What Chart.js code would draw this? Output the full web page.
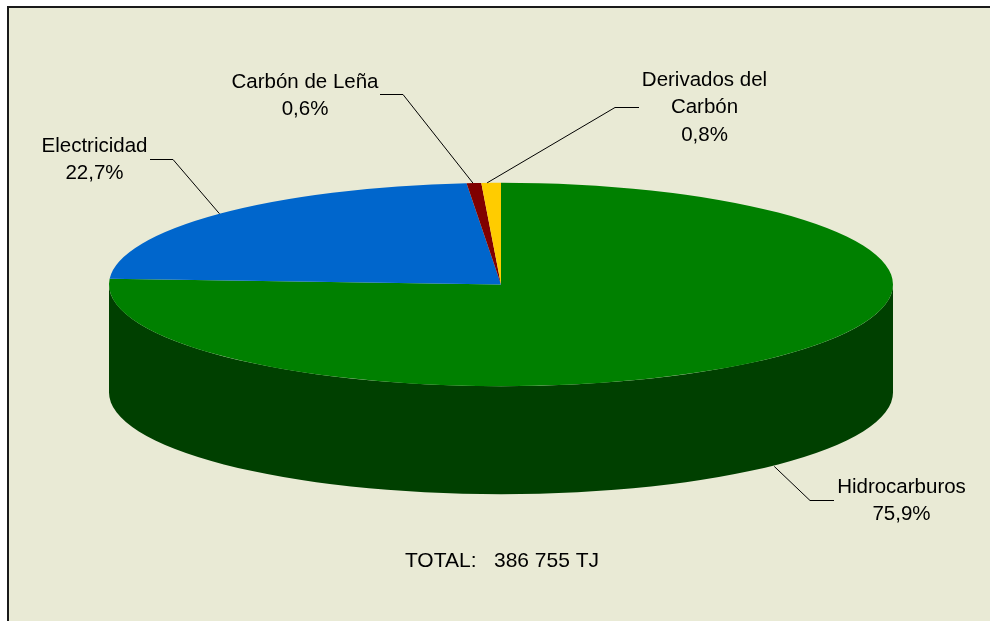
<!DOCTYPE html>
<html>
<head>
<meta charset="utf-8">
<title>Consumo final de energía</title>
<script src="https://cdn.jsdelivr.net/npm/chart.js@4"></script>
<style>
  html, body { margin: 0; padding: 0; background: #fff; overflow: hidden; }
  #panel { position: absolute; left: 7px; top: 6px; width: 990px; height: 621px; background: #e9ead5; border: 2px solid #1a1a1a; }
  #chart { position: absolute; left: 0; top: 0; }
</style>
</head>
<body>
<div id="panel"></div>
<canvas id="chart" width="990" height="621"></canvas>
<script>
// === DATA ===
const categories = ['Hidrocarburos', 'Electricidad', 'Carbón de Leña', 'Derivados del Carbón'];
const values = [75.9, 22.7, 0.6, 0.8];
const labelLines = [['Hidrocarburos'], ['Electricidad'], ['Carbón de Leña'], ['Derivados del', 'Carbón']];
const totalLabel = 'TOTAL:   386 755 TJ';

// === STYLE ===
const topColors = ['#008000', '#0066cc', '#800000', '#ffcc00'];
const sideColors = ['#004000', '#003366', '#400000', '#806600'];
const FONT = '20.5px "Liberation Sans", Arial, sans-serif';
const TOTAL_FONT = '21px "Liberation Sans", Arial, sans-serif';
const LINE_H = 27.4;

// pie is squashed into an ellipse
const RX = 392, RY = 101.7, DEPTH = 108;

// label centre x, first baseline y, leader elbow, leader end, small nudge of the leader start
const labelLayout = [
  { x: 901.5, y: 493, elbow: [810, 500], end: [834, 500], wall: true, dx: 4 },
  { x: 94.5, y: 152, elbow: [173, 159], end: [150, 159], dx: 0 },
  { x: 305, y: 88, elbow: [403, 94], end: [380, 94], dx: -1 },
  { x: 704.5, y: 86, elbow: [615, 107], end: [639, 107], dx: -4 }
];

function squash(ctx, arc) {
  ctx.translate(arc.x, arc.y);
  ctx.scale(RX / arc.outerRadius, RY / arc.outerRadius);
  ctx.translate(-arc.x, -arc.y);
}

const pie3d = {
  id: 'pie3d',
  beforeDatasetsDraw(chart) {
    const ctx = chart.ctx;
    const arcs = chart.getDatasetMeta(0).data;
    ctx.save();
    squash(ctx, arcs[0]);
    // side wall, only the front half of the pie shows
    const drop = DEPTH * arcs[0].outerRadius / RY;
    arcs.forEach((arc, i) => {
      const from = Math.max(arc.startAngle, 0);
      const to = Math.min(arc.endAngle, Math.PI);
      if (to <= from) return;
      ctx.beginPath();
      ctx.arc(arc.x, arc.y, arc.outerRadius, from, to);
      ctx.arc(arc.x, arc.y + drop, arc.outerRadius, to, from, true);
      ctx.closePath();
      ctx.fillStyle = sideColors[i];
      ctx.fill();
    });
  },
  afterDatasetsDraw(chart) {
    chart.ctx.restore();
  },
  afterDraw(chart) {
    const ctx = chart.ctx;
    const arcs = chart.getDatasetMeta(0).data;
    ctx.save();
    ctx.font = FONT;
    ctx.textAlign = 'center';
    ctx.textBaseline = 'alphabetic';
    ctx.fillStyle = '#000';
    ctx.strokeStyle = '#000';
    ctx.lineWidth = 1;
    arcs.forEach((arc, i) => {
      const l = labelLayout[i];
      const mid = (arc.startAngle + arc.endAngle) / 2;
      const ax = arc.x + RX * Math.cos(mid) + l.dx;
      const ay = arc.y + RY * Math.sin(mid) + (l.wall ? DEPTH : 0);
      ctx.beginPath();
      ctx.moveTo(ax, ay);
      ctx.lineTo(l.elbow[0], l.elbow[1] + 0.5);
      ctx.lineTo(l.end[0], l.end[1] + 0.5);
      ctx.stroke();
      const lines = labelLines[i].concat(values[i].toFixed(1).replace('.', ',') + '%');
      lines.forEach((t, k) => ctx.fillText(t, l.x, l.y + k * LINE_H));
    });
    ctx.font = TOTAL_FONT;
    ctx.fillText(totalLabel, 502, 567);
    ctx.restore();
  }
};

// === GRÁFICO ===
new Chart(document.getElementById('chart').getContext('2d'), {
  type: 'pie',
  data: {
    labels: categories,
    datasets: [{ data: values, backgroundColor: topColors, borderWidth: 0, clip: false }]
  },
  options: {
    responsive: false,
    animation: false,
    layout: { padding: { left: 12, bottom: 52 } },
    plugins: { legend: { display: false }, tooltip: { enabled: false } }
  },
  plugins: [pie3d]
});
</script>
</body>
</html>
